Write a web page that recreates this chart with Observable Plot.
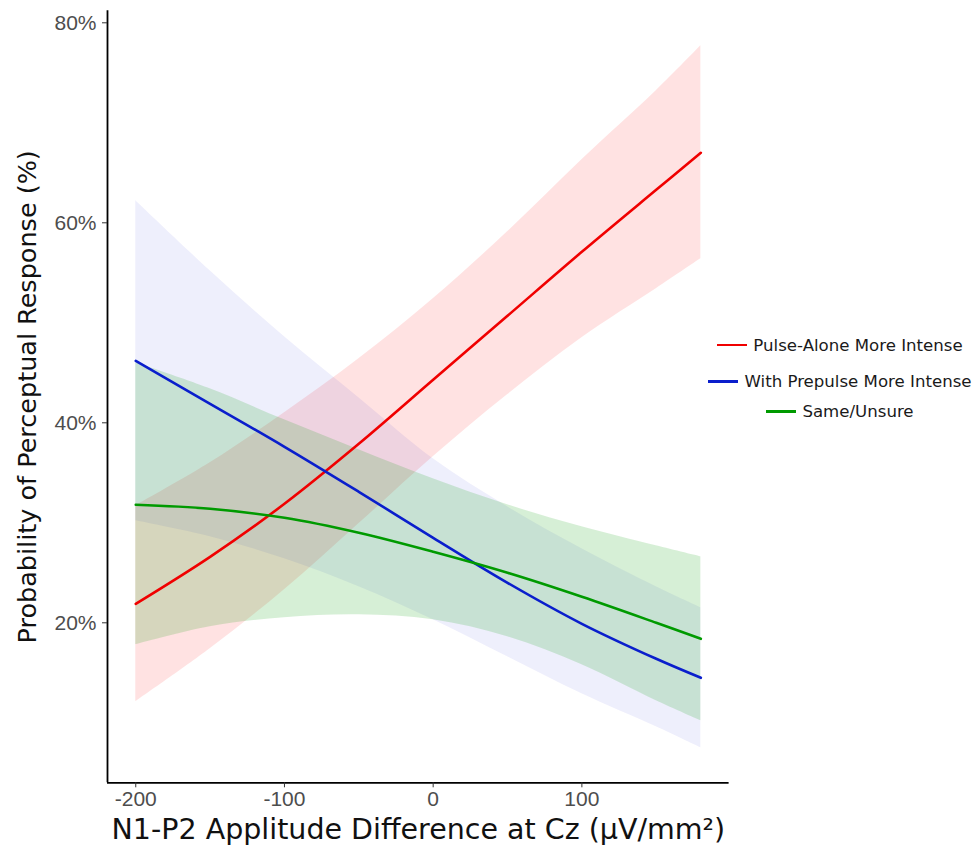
<!DOCTYPE html>
<html><head><meta charset="utf-8">
<script src="https://cdn.jsdelivr.net/npm/d3@7"></script>
<script src="https://cdn.jsdelivr.net/npm/@observablehq/plot@0.6"></script>
<style>
body{margin:0;background:#fff;}
#wrap{position:relative;width:972px;height:847px;}
#legend{position:absolute;left:700px;top:0;width:280px;font-family:"DejaVu Sans";font-size:16.6px;color:#1a1a1a;}
.row{position:absolute;left:0;width:280px;height:20px;display:flex;justify-content:center;align-items:center;white-space:nowrap;}
.sw{width:30px;height:2.5px;margin-right:6px;}
</style></head><body><div id="wrap"><div id="legend"></div></div>
<script>
const xs = [-200, -150, -100, -50, 0, 50, 100, 150, 180];
const seriesNames = ["Pulse-Alone More Intense", "With Prepulse More Intense", "Same/Unsure"];
const redFit   = [21.9, 26.6, 31.9, 37.9, 44.3, 50.7, 57.1, 63.3, 67.0];
const redLow   = [12.1, 17.4, 23.3, 29.9, 36.6, 42.8, 48.5, 53.4, 56.4];
const redHigh  = [31.7, 36.0, 41.0, 46.4, 52.4, 59.1, 66.3, 73.2, 77.7];
const blueFit  = [46.2, 41.9, 37.6, 33.1, 28.5, 24.0, 19.9, 16.4, 14.5];
const blueLow  = [30.2, 28.6, 26.4, 23.6, 20.3, 16.6, 12.9, 9.6, 7.5];
const blueHigh = [62.2, 55.2, 48.6, 42.5, 36.4, 31.6, 27.4, 23.6, 21.5];
const greenFit = [31.8, 31.4, 30.5, 29.0, 27.1, 25.0, 22.6, 20.0, 18.4];
const greenLow = [17.8, 19.6, 20.5, 20.8, 20.3, 18.6, 15.8, 12.2, 10.2];
const greenHigh= [46.0, 43.4, 40.3, 37.3, 34.4, 31.8, 29.6, 27.7, 26.6];
const xTicks = [-200, -100, 0, 100];
const yTicks = [20, 40, 60, 80];
const xTitle = "N1-P2 Applitude Difference at Cz (µV/mm²)";
const yTitle = "Probability of Perceptual Response (%)";

const styles = [
  {name: seriesNames[0], line: "#f00000", fill: "#ff0000", op: 0.115, fit: redFit, low: redLow, high: redHigh},
  {name: seriesNames[1], line: "#0a1ecc", fill: "#0010d2", op: 0.065, fit: blueFit, low: blueLow, high: blueHigh},
  {name: seriesNames[2], line: "#009a00", fill: "#009900", op: 0.16, fit: greenFit, low: greenLow, high: greenHigh}
];
const tables = styles.map(s => xs.map((x, i) => ({x, fit: s.fit[i], low: s.low[i], high: s.high[i], series: s.name})));

const xDom = [-219, 199], yDom = [4.0, 81.2];
const marks = [];
styles.forEach((s, k) => marks.push(Plot.areaY(tables[k], {x: "x", y1: "low", y2: "high", fill: s.fill, fillOpacity: s.op, curve: "catmull-rom"})));
styles.forEach((s, k) => marks.push(Plot.line(tables[k], {x: "x", y: "fit", stroke: s.line, strokeWidth: 2.6, curve: "catmull-rom"})));
marks.push(
  Plot.ruleY([yDom[0]], {stroke: "#000", strokeWidth: 1.8}),
  Plot.ruleX([xDom[0]], {stroke: "#000", strokeWidth: 1.8}),
  Plot.axisX({ticks: xTicks, tickSize: 5, tickPadding: 3, label: null, tickFormat: d => String(d), fontSize: 21, fill: "#4d4d4d", stroke: "#333", fontFamily: "Liberation Sans"}),
  Plot.axisY({ticks: yTicks, tickSize: 5, tickPadding: 6, label: null, tickFormat: d => d + "%", fontSize: 21, fill: "#4d4d4d", stroke: "#333", fontFamily: "Liberation Sans"}),
  Plot.text([xTitle], {frameAnchor: "bottom", lineAnchor: "middle", dy: 47, fontSize: 28.5, fontFamily: "DejaVu Sans", fill: "#111"}),
  Plot.text([yTitle], {frameAnchor: "left", textAnchor: "middle", lineAnchor: "middle", dx: -80, rotate: -90, fontSize: 25.5, fontFamily: "DejaVu Sans", fill: "#111"})
);

const chart = Plot.plot({
  width: 972, height: 847,
  marginLeft: 107, marginRight: 243.4, marginTop: 10.3, marginBottom: 64.7,
  style: {background: "#fff", fontFamily: "Liberation Sans", overflow: "visible"},
  x: {domain: xDom},
  y: {domain: yDom},
  marks
});
document.getElementById("wrap").prepend(chart);

const legend = document.getElementById("legend");
const rowY = [345, 381.5, 411.5];
styles.forEach((s, k) => {
  const r = document.createElement("div");
  r.className = "row";
  r.style.top = (rowY[k] - 10) + "px";
  r.innerHTML = `<span class="sw" style="background:${s.line}"></span><span>${s.name}</span>`;
  legend.appendChild(r);
});
</script></body></html>
